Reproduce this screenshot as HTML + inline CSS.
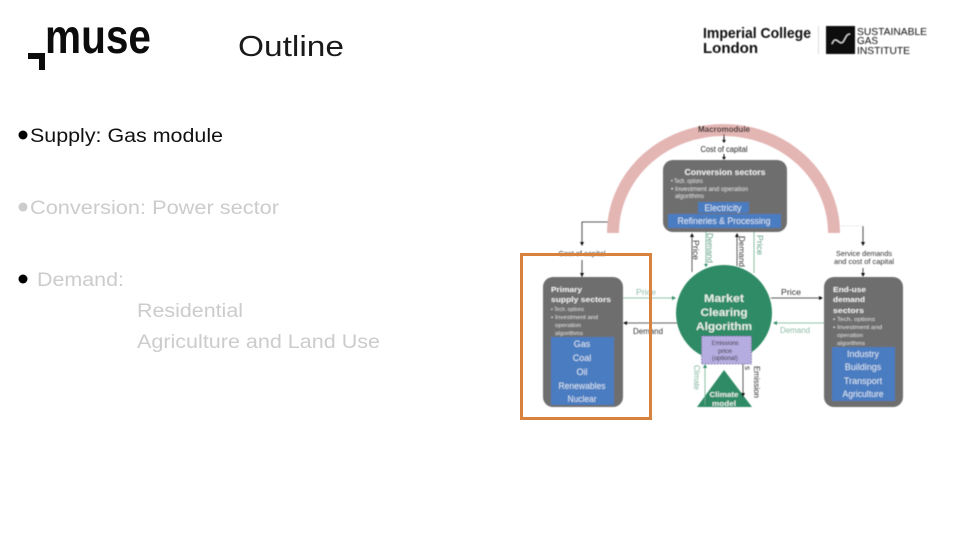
<!DOCTYPE html>
<html><head><meta charset="utf-8"><style>
html,body{margin:0;padding:0;background:#fff}
svg{display:block}
text{font-family:"Liberation Sans",sans-serif}
</style></head><body>
<svg width="960" height="540" viewBox="0 0 960 540" xmlns="http://www.w3.org/2000/svg">
<defs>
<filter id="b" x="-5%" y="-5%" width="110%" height="110%"><feGaussianBlur stdDeviation="0.45"/></filter>
</defs>
<rect width="960" height="540" fill="#fff"/>

<!-- muse logo -->
<text x="45" y="53" font-size="48" font-weight="bold" fill="#0c0c0c" textLength="106" lengthAdjust="spacingAndGlyphs">muse</text>
<path d="M28 53H45V70H39V59H28Z" fill="#0c0c0c"/>

<!-- title -->
<text x="238" y="56" font-size="29" fill="#1a1a1a" textLength="106" lengthAdjust="spacingAndGlyphs">Outline</text>

<!-- Imperial logo -->
<g filter="url(#b)">
<text x="703" y="38" font-size="15" font-weight="bold" fill="#111" textLength="108" lengthAdjust="spacingAndGlyphs">Imperial College</text>
<text x="703" y="53" font-size="15" font-weight="bold" fill="#111" textLength="55" lengthAdjust="spacingAndGlyphs">London</text>
<rect x="818" y="26" width="1" height="28" fill="#ddd"/>
<rect x="826" y="26" width="29" height="28" fill="#0a0a0a"/>
<path d="M832 44C836 34 839 46 843 42C846 38 846 34 850 34" fill="none" stroke="#eee" stroke-width="1"/>
<text x="857" y="35" font-size="10.5" fill="#111" textLength="70" lengthAdjust="spacingAndGlyphs">SUSTAINABLE</text>
<text x="857" y="44" font-size="10.5" fill="#111" textLength="21" lengthAdjust="spacingAndGlyphs">GAS</text>
<text x="857" y="54" font-size="10.5" fill="#111" textLength="53" lengthAdjust="spacingAndGlyphs">INSTITUTE</text>
</g>

<!-- bullets -->
<circle cx="23" cy="135" r="4.5" fill="#000"/>
<text x="30" y="142" font-size="19" fill="#111" textLength="193" lengthAdjust="spacingAndGlyphs">Supply: Gas module</text>
<circle cx="23" cy="207" r="4.5" fill="#ccc"/>
<text x="30" y="214" font-size="19" fill="#ccc" textLength="249" lengthAdjust="spacingAndGlyphs">Conversion: Power sector</text>
<circle cx="23" cy="279" r="4.5" fill="#000"/>
<text x="37" y="286" font-size="19" fill="#ccc" textLength="87" lengthAdjust="spacingAndGlyphs">Demand:</text>
<text x="137" y="317" font-size="19" fill="#ccc" textLength="106" lengthAdjust="spacingAndGlyphs">Residential</text>
<text x="137" y="348" font-size="19" fill="#ccc" textLength="243" lengthAdjust="spacingAndGlyphs">Agriculture and Land Use</text>

<!-- diagram -->
<g filter="url(#b)">
<!-- arch -->
<path d="M613 233A110.500 103 0 0 1 834 233" fill="none" stroke="#e3b5b3" stroke-width="12"/>
<text x="724" y="132" font-size="8" font-weight="bold" fill="#222" text-anchor="middle" textLength="52" lengthAdjust="spacingAndGlyphs">Macromodule</text>
<path d="M724 134V141" stroke="#111" stroke-width="1"/><path d="M722 140h4l-2 3z" fill="#111"/>
<text x="724" y="152" font-size="8" fill="#222" text-anchor="middle" textLength="47" lengthAdjust="spacingAndGlyphs">Cost of capital</text>
<path d="M724 154V159" stroke="#111" stroke-width="1"/><path d="M722 157h4l-2 3z" fill="#111"/>

<!-- conversion -->
<rect x="663" y="160" width="124" height="72" rx="10" fill="#6e6e6e"/>
<text x="725" y="175" font-size="8" font-weight="bold" fill="#eee" text-anchor="middle" textLength="81" lengthAdjust="spacingAndGlyphs">Conversion sectors</text>
<text x="671" y="183" font-size="6" fill="#ddd" textLength="32" lengthAdjust="spacingAndGlyphs">• Tech. options</text>
<text x="671" y="191" font-size="6" fill="#ddd" textLength="77" lengthAdjust="spacingAndGlyphs">• Investment and operation</text>
<text x="675" y="198" font-size="6" fill="#ddd" textLength="29" lengthAdjust="spacingAndGlyphs">algorithms</text>
<rect x="698" y="202" width="51" height="11" fill="#4a7cc0"/>
<rect x="668" y="214" width="113" height="14" fill="#4a7cc0"/>
<text x="723" y="211" font-size="9" fill="#dbe6f5" text-anchor="middle" textLength="37" lengthAdjust="spacingAndGlyphs">Electricity</text>
<text x="724" y="224" font-size="9" fill="#dbe6f5" text-anchor="middle" textLength="93" lengthAdjust="spacingAndGlyphs">Refineries &amp; Processing</text>

<!-- left connector -->
<path d="M608 222H582V243M582 260V277" fill="none" stroke="#222" stroke-width="0.8"/>
<path d="M580 242h4l-2 4zM580 273h4l-2 4z" fill="#111"/>
<text x="582" y="256" font-size="7.500" fill="#333" text-anchor="middle" textLength="47" lengthAdjust="spacingAndGlyphs">Cost of capital</text>

<!-- right connector -->
<path d="M841 226H863" stroke="#ddd" stroke-width="0.6"/>
<path d="M863 226V243M863 268V276" stroke="#222" stroke-width="0.8"/>
<path d="M861 242h4l-2 4zM861 273h4l-2 4z" fill="#111"/>
<text x="864" y="256" font-size="7.500" fill="#333" text-anchor="middle" textLength="56" lengthAdjust="spacingAndGlyphs">Service demands</text>
<text x="864" y="264" font-size="7.500" fill="#333" text-anchor="middle" textLength="60" lengthAdjust="spacingAndGlyphs">and cost of capital</text>

<!-- vertical connectors -->
<path d="M692 236V272" stroke="#333" stroke-width="0.8"/><path d="M690 237h4l-2-4z" fill="#111"/>
<path d="M706 232V265" stroke="#6fae91" stroke-width="0.8"/><path d="M704 264h4l-2 3z" fill="#2e8b65"/>
<path d="M737 236V266" stroke="#333" stroke-width="0.8"/><path d="M735 237h4l-2-4z" fill="#111"/>
<path d="M754 232V273" stroke="#6fae91" stroke-width="0.8"/>
<text transform="translate(693,240) rotate(90)" font-size="8" fill="#333" textLength="20" lengthAdjust="spacingAndGlyphs">Price</text>
<text transform="translate(707,233) rotate(90)" font-size="8" fill="#5d9f82" textLength="30" lengthAdjust="spacingAndGlyphs">Demand</text>
<text transform="translate(739,236) rotate(90)" font-size="8" fill="#333" textLength="31" lengthAdjust="spacingAndGlyphs">Demand</text>
<text transform="translate(757,235) rotate(90)" font-size="8" fill="#5d9f82" textLength="20" lengthAdjust="spacingAndGlyphs">Price</text>

<!-- horizontal connectors -->
<path d="M623 298H675" stroke="#6fae91" stroke-width="0.8"/><path d="M672 296v4l4-2z" fill="#2e8b65"/>
<path d="M626 323H677" stroke="#333" stroke-width="0.8"/><path d="M627 321v4l-4-2z" fill="#111"/>
<text x="646" y="295" font-size="8" fill="#8dbba6" text-anchor="middle" textLength="20" lengthAdjust="spacingAndGlyphs">Price</text>
<text x="648" y="334" font-size="8" fill="#333" text-anchor="middle" textLength="30" lengthAdjust="spacingAndGlyphs">Demand</text>
<path d="M771 298H822" stroke="#222" stroke-width="0.8"/><path d="M819 296v4l4-2z" fill="#111"/>
<path d="M776 323H824" stroke="#6fae91" stroke-width="0.8"/><path d="M777 321v4l-4-2z" fill="#2e8b65"/>
<text x="791" y="295" font-size="8" fill="#333" text-anchor="middle" textLength="20" lengthAdjust="spacingAndGlyphs">Price</text>
<text x="795" y="333" font-size="8" fill="#8dbba6" text-anchor="middle" textLength="30" lengthAdjust="spacingAndGlyphs">Demand</text>

<!-- primary -->
<rect x="543" y="277" width="80" height="130" rx="10" fill="#6e6e6e"/>
<text x="551" y="292" font-size="7.500" font-weight="bold" fill="#eee" textLength="31" lengthAdjust="spacingAndGlyphs">Primary</text>
<text x="551" y="302" font-size="7.500" font-weight="bold" fill="#eee" textLength="60" lengthAdjust="spacingAndGlyphs">supply sectors</text>
<text x="551" y="311" font-size="5.500" fill="#ddd" textLength="33" lengthAdjust="spacingAndGlyphs">• Tech. options</text>
<text x="551" y="319" font-size="5.500" fill="#ddd" textLength="47" lengthAdjust="spacingAndGlyphs">• Investment and</text>
<text x="555" y="327" font-size="5.500" fill="#ddd" textLength="26" lengthAdjust="spacingAndGlyphs">operation</text>
<text x="555" y="335" font-size="5.500" fill="#ddd" textLength="28" lengthAdjust="spacingAndGlyphs">algorithms</text>
<rect x="551" y="337" width="63" height="68" fill="#4a7cc0"/>
<g font-size="9" fill="#dbe6f5" text-anchor="middle">
<text x="582" y="347">Gas</text>
<text x="582" y="361">Coal</text>
<text x="582" y="375">Oil</text>
<text x="582" y="389" textLength="47" lengthAdjust="spacingAndGlyphs">Renewables</text>
<text x="582" y="402" textLength="29" lengthAdjust="spacingAndGlyphs">Nuclear</text>
</g>

<!-- end-use -->
<rect x="824" y="277" width="79" height="130" rx="10" fill="#6e6e6e"/>
<text x="833" y="292" font-size="7.500" font-weight="bold" fill="#eee" textLength="33" lengthAdjust="spacingAndGlyphs">End-use</text>
<text x="833" y="302" font-size="7.500" font-weight="bold" fill="#eee" textLength="32" lengthAdjust="spacingAndGlyphs">demand</text>
<text x="833" y="313" font-size="7.500" font-weight="bold" fill="#eee" textLength="31" lengthAdjust="spacingAndGlyphs">sectors</text>
<text x="833" y="321" font-size="5.500" fill="#ddd" textLength="42" lengthAdjust="spacingAndGlyphs">• Tech. options</text>
<text x="833" y="329" font-size="5.500" fill="#ddd" textLength="49" lengthAdjust="spacingAndGlyphs">• Investment and</text>
<text x="837" y="337" font-size="5.500" fill="#ddd" textLength="26" lengthAdjust="spacingAndGlyphs">operation</text>
<text x="837" y="345" font-size="5.500" fill="#ddd" textLength="28" lengthAdjust="spacingAndGlyphs">algorithms</text>
<rect x="832" y="347" width="63" height="54" fill="#4a7cc0"/>
<g font-size="9" fill="#dbe6f5" text-anchor="middle">
<text x="863" y="357">Industry</text>
<text x="863" y="370">Buildings</text>
<text x="863" y="384">Transport</text>
<text x="863" y="397" textLength="41" lengthAdjust="spacingAndGlyphs">Agriculture</text>
</g>

<!-- market -->
<circle cx="724" cy="313" r="48" fill="#2e8b65"/>
<g font-size="11" font-weight="bold" fill="#e4efe9" text-anchor="middle">
<text x="724" y="302" textLength="40" lengthAdjust="spacingAndGlyphs">Market</text>
<text x="724" y="316" textLength="47" lengthAdjust="spacingAndGlyphs">Clearing</text>
<text x="724" y="330" textLength="56" lengthAdjust="spacingAndGlyphs">Algorithm</text>
</g>
<rect x="701.500" y="336" width="50" height="28" fill="#b5acdf" stroke="#4a4a8a" stroke-width="0.7" stroke-dasharray="1.500 1.500"/>
<g font-size="6.500" fill="#222" text-anchor="middle">
<text x="725" y="345" textLength="27" lengthAdjust="spacingAndGlyphs">Emissions</text>
<text x="725" y="353" textLength="14" lengthAdjust="spacingAndGlyphs">price</text>
<text x="725" y="360" textLength="26" lengthAdjust="spacingAndGlyphs">(optional)</text>
</g>

<!-- climate -->
<path d="M724 370L752 407H697Z" fill="#2e8b65"/>
<text x="724" y="397" font-size="7.500" font-weight="bold" fill="#e4efe9" text-anchor="middle" textLength="29" lengthAdjust="spacingAndGlyphs">Climate</text>
<text x="724" y="406" font-size="7.500" font-weight="bold" fill="#e4efe9" text-anchor="middle" textLength="24" lengthAdjust="spacingAndGlyphs">model</text>
<path d="M705 366V405" stroke="#6fae91" stroke-width="0.8"/><path d="M703 368h4l-2-4z" fill="#2e8b65"/>
<path d="M743 364V395" stroke="#333" stroke-width="0.8"/><path d="M741 393h4l-2 4z" fill="#111"/>
<text transform="translate(694,365) rotate(90)" font-size="8" fill="#7fb59b" textLength="25" lengthAdjust="spacingAndGlyphs">Climate</text>
<text transform="translate(754,366) rotate(90)" font-size="8" fill="#333" textLength="32" lengthAdjust="spacingAndGlyphs">Emission</text>
<text transform="translate(745,366) rotate(90)" font-size="8" fill="#333">s</text>
</g>

<!-- orange highlight -->
<rect x="521.500" y="254.500" width="129" height="164" fill="none" stroke="#d9823e" stroke-width="3"/>
</svg>
</body></html>
